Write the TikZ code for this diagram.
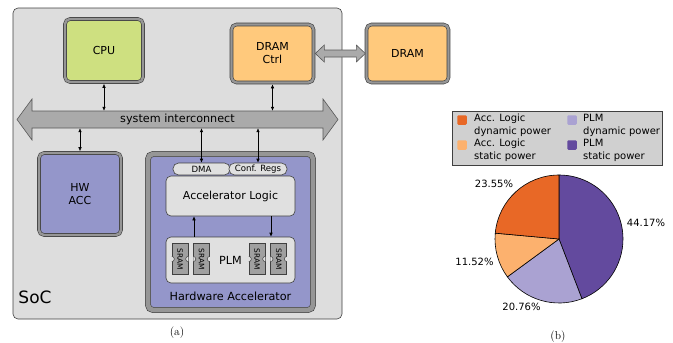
\documentclass[tikz,border=0pt]{standalone}
\usepackage{fontspec}
\usepackage{graphicx}
\usepackage{tikz}
\usetikzlibrary{positioning, arrows.meta}
\newfontfamily\dejavu{DejaVu Sans}
\definecolor{socgray}{RGB}{221,221,221}
\definecolor{framegray}{RGB}{150,150,150}
\definecolor{cpugreen}{RGB}{206,224,128}
\definecolor{dramorange}{RGB}{255,201,124}
\definecolor{accpurple}{RGB}{148,150,202}
\definecolor{boxgray}{RGB}{224,224,224}
\definecolor{busgray}{RGB}{170,170,170}
\definecolor{sramgray}{RGB}{160,160,160}
\definecolor{legendgray}{RGB}{208,208,208}
\definecolor{accdyn}{RGB}{232,104,38}
\definecolor{accsta}{RGB}{252,177,110}
\definecolor{plmdyn}{RGB}{170,162,210}
\definecolor{plmsta}{RGB}{99,74,158}
\tikzset{
    chip/.style={draw=black!75, line width=0.6pt, double=framegray, double distance=2.4pt,
        rounded corners=5pt, outer sep=1.8pt, inner sep=0pt, align=center,
        font=\dejavu\fontsize{11}{13}\selectfont},
    cpunode/.style={chip, fill=cpugreen, minimum width=78, minimum height=63},
    dramnode/.style={chip, fill=dramorange, minimum width=82, minimum height=58},
    accnode/.style={chip, fill=accpurple, minimum width=82, minimum height=82},
    hwabox/.style={chip, fill=accpurple, double distance=4.6pt, outer sep=2.9pt,
        minimum width=165, minimum height=156},
    inbox/.style={draw=black!75, line width=0.6pt, fill=boxgray, rounded corners=5pt,
        inner sep=0pt, font=\dejavu\fontsize{11}{13}\selectfont},
    pill/.style={inbox, rounded corners=5.5pt, minimum height=12, minimum width=57,
        font=\dejavu\fontsize{8.6}{10}\selectfont},
    sram/.style={draw=black!75, line width=0.5pt, fill=sramgray, inner sep=0pt,
        minimum width=16, minimum height=31, font=\dejavu\fontsize{7.4}{8}\selectfont},
    busline/.style={draw=black!65, line width=0.6pt, fill=busgray},
    link/.style={{Latex[length=4pt,width=3.6pt]}-{Latex[length=4pt,width=3.6pt]}, line width=0.6pt},
    uplink/.style={-{Latex[length=4pt,width=3.6pt]}, line width=0.6pt},
    plain/.style={font=\dejavu\fontsize{11.2}{13}\selectfont, inner sep=0pt},
    legtext/.style={font=\dejavu\fontsize{10}{12.6}\selectfont, align=left, anchor=west, inner sep=0pt},
    legmark/.style={rounded corners=1.2pt, minimum size=9.5, inner sep=0pt},
    pct/.style={font=\dejavu\fontsize{10}{12}\selectfont, inner sep=0pt},
    slice/.style={draw=black, line width=0.6pt}
}

\begin{document}
\begin{tikzpicture}[x=1pt, y=-1pt]
    \useasboundingbox (0,0) rectangle (673,343);

    % SoC
    \node[draw=black!75, line width=0.6pt, fill=socgray, rounded corners=5pt,
        minimum width=329, minimum height=311] (soc) at (177.5,163.5) {};
    \node[font=\dejavu\fontsize{17}{19}\selectfont, inner sep=0pt] (soclabel) at (35,297) {SoC};

    \node[cpunode] (cpu) at (104,50.5) {CPU};
    \node[dramnode] (dctrl) at (272.5,53.5) {DRAM\\Ctrl};
    \node[dramnode] (dram) at (407.5,53.5) {DRAM};
    \node[accnode] (hwacc) at (80,194) {HW\\ACC};

    % system interconnect
    \draw[busline] (17,119.5) -- (32,99) -- (32,111) -- (323,111) -- (323,99) -- (338,119.5)
        -- (323,140) -- (323,128) -- (32,128) -- (32,140) -- cycle;
    \node[plain, minimum width=291, minimum height=17] (bus) at (177.5,119.5) {system interconnect};

    % DRAM link
    \draw[busline] (dctrl.east) -- ++(9,-8.5) -- ++(0,5) -- ++(32,0) -- ++(0,-5) -- ++(9,8.5)
        -- ++(-9,8.5) -- ++(0,-5) -- ++(-32,0) -- ++(0,5) -- cycle;

    % Hardware Accelerator
    \node[hwabox] (hwa) at (230.5,232) {};
    \node[plain] (hwalabel) at (230.5,296) {Hardware Accelerator};
    \node[pill] (dma) at (201.5,169) {DMA};
    \node[pill, minimum width=58] (conf) at (258,169) {Conf. Regs};
    \node[inbox, minimum width=129, minimum height=40] (alogic) at (230.5,196) {Accelerator Logic};
    \node[inbox, minimum width=129, minimum height=46] (plm) at (230.5,260) {};
    \node[plain] (plmlabel) at (230.5,260) {PLM};
    \foreach \n/\x in {s1/180, s2/201.5, s3/257, s4/278.7} {
        \node[sram] (\n) at (\x,259) {\rotatebox{-90}{SRAM}};
        \begin{scope}
            \clip (\n.south west) rectangle (\n.north east);
            \filldraw[fill=boxgray, draw=black!75, line width=0.5pt] (\n.east) circle (2.6);
            \filldraw[fill=boxgray, draw=black!75, line width=0.5pt] (\n.west) circle (2.6);
        \end{scope}
    }

    % connections
    \draw[link] (cpu.south) -- (cpu.south |- bus.north);
    \draw[link] (dctrl.south) -- (dctrl.south |- bus.north);
    \draw[link] (bus.south -| hwacc.north) -- (hwacc.north);
    \draw[link] (bus.south -| dma.north) -- (dma.north);
    \draw[link] (bus.south -| conf.north) -- (conf.north);
    \draw[uplink] ([xshift=-36.5pt]plm.north) -- ([xshift=-36.5pt]alogic.south);
    \draw[uplink] ([xshift=40.5pt]alogic.south) -- ([xshift=40.5pt]plm.north);

    \node[font=\fontsize{11.5}{13}\selectfont, inner sep=0pt] (capa) at (177,333) {(a)};

    % legend
    \node[draw=black!75, line width=0.6pt, fill=legendgray, minimum width=210, minimum height=54,
        inner sep=0pt] (legend) at (557,138) {};
    \node[legmark, fill=accdyn] (m1) at (462,120) {};
    \node[legmark, fill=accsta] (m2) at (462,145) {};
    \node[legmark, fill=plmdyn] (m3) at (572,120) {};
    \node[legmark, fill=plmsta] (m4) at (572,145) {};
    \node[legtext] (t1) at (474,125.5) {Acc. Logic\\dynamic power};
    \node[legtext] (t2) at (474,150.5) {Acc. Logic\\static power};
    \node[legtext] (t3) at (583,125.5) {PLM\\dynamic power};
    \node[legtext] (t4) at (583,150.5) {PLM\\static power};

    % pie
    \begin{scope}[shift={(559,239)}, yscale=-1]
        \filldraw[slice, fill=plmsta] (0,0) -- (90:64) arc (90:-69.01:64) -- cycle;
        \filldraw[slice, fill=plmdyn] (0,0) -- (-69.01:64) arc (-69.01:-143.75:64) -- cycle;
        \filldraw[slice, fill=accsta] (0,0) -- (-143.75:64) arc (-143.75:-185.22:64) -- cycle;
        \filldraw[slice, fill=accdyn] (0,0) -- (-185.22:64) arc (-185.22:-270:64) -- cycle;
    \end{scope}
    \node[pct] (p1) at (646,223) {44.17\%};
    \node[pct] (p2) at (494,184) {23.55\%};
    \node[pct] (p3) at (474.5,262) {11.52\%};
    \node[pct] (p4) at (521.5,307) {20.76\%};

    \node[font=\fontsize{11.5}{13}\selectfont, inner sep=0pt] (capb) at (558,337) {(b)};
\end{tikzpicture}
\end{document}
